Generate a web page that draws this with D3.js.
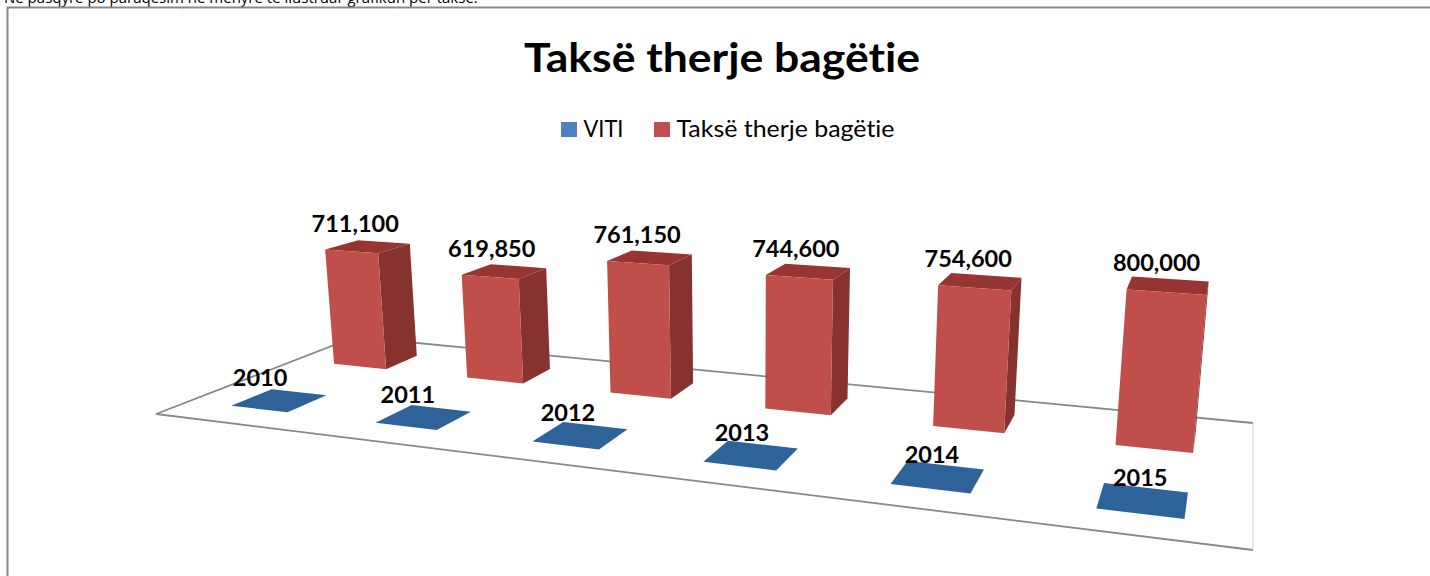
<!DOCTYPE html>
<html>
<head>
<meta charset="utf-8">
<script src="https://cdn.jsdelivr.net/npm/d3@7"></script>
<style>
  html, body { margin: 0; padding: 0; background: #fff; overflow: hidden; }
  text { font-family: Lato, "Open Sans", sans-serif; fill: #000; font-variant-ligatures: none; }
</style>
</head>
<body>
<svg id="chart" width="1430" height="576">
  <defs><filter id="soft"><feGaussianBlur stdDeviation="0.5"></feGaussianBlur></filter></defs>
</svg>
<script>
const years = ["2010", "2011", "2012", "2013", "2014", "2015"];
const slaughterFee = [711100, 619850, 761150, 744600, 754600, 800000];
const legendLabels = ["VITI", "Taksë therje bagëtie"];
const titleText = "Taksë therje bagëtie";
const captionText = "Në pasqyrë po paraqesim në mënyrë të ilustruar grafikun për taksë:";

const svg = d3.select("#chart");

// floor plane of the tilted 3d chart: unit square (u along years, v into depth)
const A = [156, 414], B = [1253, 550], C = [1253, 423], D = [355, 337];
const vanish = [746, 5650]; // where the bar uprights meet, far below

function homography(p0, p1, p2, p3) {
    const dx1 = p1[0] - p2[0], dx2 = p3[0] - p2[0], sx = p0[0] - p1[0] + p2[0] - p3[0];
    const dy1 = p1[1] - p2[1], dy2 = p3[1] - p2[1], sy = p0[1] - p1[1] + p2[1] - p3[1];
    const den = dx1 * dy2 - dx2 * dy1;
    const g = (sx * dy2 - dx2 * sy) / den, h = (dx1 * sy - sx * dy1) / den;
    return {
        a: p1[0] - p0[0] + g * p1[0], b: p3[0] - p0[0] + h * p3[0], c: p0[0],
        d: p1[1] - p0[1] + g * p1[1], e: p3[1] - p0[1] + h * p3[1], f: p0[1],
        g: g, h: h
    };
}
const H = homography(A, B, C, D);

// s is the lift, scaled from the value
function project(u, v, s) {
    const X = H.a * u + H.b * v + H.c;
    const Y = H.d * u + H.e * v + H.f;
    const W = H.g * u + H.h * v + 1;
    return [(X - s * vanish[0]) / (W - s), (Y - s * vanish[1]) / (W - s)];
}

const uScale = d3.scaleBand().domain(years).range([0, 1]).paddingInner(0.6).paddingOuter(0.3);
const liftScale = d3.scaleLinear().domain([0, 800000]).range([0, 0.027]);
const vRed = d3.scaleLinear().domain([0, 1]).range([0.66, 0.845]);
const vBlue = d3.scaleLinear().domain([0, 1]).range([0.145, 0.335]);
const fmt = d3.format(",");

const line = d3.line();
function face(pts) { return line(pts) + "Z"; }

// page frame and the cut off line of text above it
svg.append("text").attr("x", 4).attr("y", 2.5)
    .style("font-family", "'Open Sans'").style("font-size", "15px").text(captionText);
svg.append("path").attr("d", "M7.5,576V7.5H1430").attr("fill", "none")
    .attr("stroke", "#8a8a8a").attr("stroke-width", 2);

// title and legend
svg.append("text").attr("x", 524).attr("y", 72)
    .attr("textLength", 396).attr("lengthAdjust", "spacingAndGlyphs")
    .style("font-size", "41px").style("font-weight", 700).text(titleText);

const legendColors = ["#4f81bd", "#c0504d"];
const legendX = d3.scaleOrdinal().domain(legendLabels).range([561, 654]);
const legendWidth = d3.scaleOrdinal().domain(legendLabels).range([40, 218]);
const legend = svg.append("g").selectAll("g").data(legendLabels).enter().append("g")
    .attr("transform", d => `translate(${legendX(d)},122)`);
legend.append("rect").attr("width", 16).attr("height", 15)
    .attr("fill", (d, i) => legendColors[i]);
legend.append("text").attr("x", 22.5).attr("y", 15)
    .attr("textLength", d => legendWidth(d)).attr("lengthAdjust", "spacingAndGlyphs")
    .style("font-size", "23px").text(d => d);

// floor
const marks = svg.append("g").attr("filter", "url(#soft)");
const floor = marks.append("g");
floor.append("path").attr("d", face([project(0, 0, 0), project(1, 0, 0), project(1, 1, 0), project(0, 1, 0)]))
    .attr("fill", "#fff");
floor.append("path").attr("d", line([project(1, 1, 0), project(0, 1, 0), project(0, 0, 0), project(1, 0, 0)]))
    .attr("fill", "none").attr("stroke", "#858989").attr("stroke-width", 1.8);
floor.append("path").attr("d", line([project(1, 0, 0), project(1, 1, 0)]))
    .attr("fill", "none").attr("stroke", "#d0d4d4").attr("stroke-width", 1);

// blue tiles (VITI is drawn flat on the floor)
marks.append("g").selectAll("path").data(years).enter().append("path")
    .attr("d", d => {
        const u0 = uScale(d), u1 = u0 + uScale.bandwidth();
        return face([project(u0, vBlue(0), 0), project(u1, vBlue(0), 0), project(u1, vBlue(1), 0), project(u0, vBlue(1), 0)]);
    })
    .attr("fill", "#2f6399");

// red bars
const bars = marks.append("g").selectAll("g").data(years).enter().append("g");
function barCorners(d, i) {
    const u0 = uScale(d), u1 = u0 + uScale.bandwidth(), s = liftScale(slaughterFee[i]);
    return { u0: u0, u1: u1, s: s };
}
bars.append("path").attr("d", (d, i) => {
    const b = barCorners(d, i);
    return face([project(b.u1, vRed(0), 0), project(b.u1, vRed(1), 0), project(b.u1, vRed(1), b.s), project(b.u1, vRed(0), b.s)]);
}).attr("fill", "#86322f");
bars.append("path").attr("d", (d, i) => {
    const b = barCorners(d, i);
    return face([project(b.u0, vRed(0), b.s), project(b.u1, vRed(0), b.s), project(b.u1, vRed(1), b.s), project(b.u0, vRed(1), b.s)]);
}).attr("fill", "#973431");
bars.append("path").attr("d", (d, i) => {
    const b = barCorners(d, i);
    return face([project(b.u0, vRed(0), 0), project(b.u1, vRed(0), 0), project(b.u1, vRed(0), b.s), project(b.u0, vRed(0), b.s)]);
}).attr("fill", "#c04f4b");

// value labels sit above the front left corner of each bar top
svg.append("g").selectAll("text").data(years).enter().append("text")
    .attr("x", (d, i) => project(uScale(d), vRed(0), liftScale(slaughterFee[i]))[0] + 30)
    .attr("y", (d, i) => project(uScale(d), vRed(0), liftScale(slaughterFee[i]))[1] - 18)
    .attr("text-anchor", "middle")
    .style("font-size", "23.5px").style("font-weight", 700)
    .text((d, i) => fmt(slaughterFee[i]));

// year labels, drifting right with the tilt
svg.append("g").selectAll("text").data(years).enter().append("text")
    .attr("x", d => {
        const u = uScale(d) + uScale.bandwidth() / 2;
        return project(u, vBlue(0.5), 0)[0] - 21 + 20 * u;
    })
    .attr("y", d => project(uScale(d) + uScale.bandwidth() / 2, vBlue(0.5), 0)[1] - 14)
    .attr("text-anchor", "middle")
    .style("font-size", "23.5px").style("font-weight", 700)
    .text(d => d);
</script>
</body>
</html>
